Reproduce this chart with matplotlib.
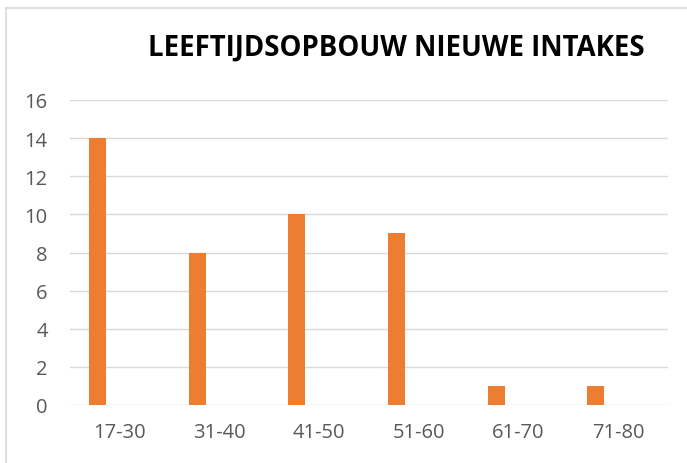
import matplotlib
matplotlib.use("Agg")
import matplotlib.pyplot as plt
from matplotlib.lines import Line2D
import numpy as np

categories = ["17-30", "31-40", "41-50", "51-60", "61-70", "71-80"]
values = [14, 8, 10, 9, 1, 1]
yticks = [0, 2, 4, 6, 8, 10, 12, 14, 16]
title = "LEEFTIJDSOPBOUW NIEUWE INTAKES"

W, H = 687, 464
fig = plt.figure(figsize=(W / 100, H / 100), dpi=100)
ax = fig.add_axes([70 / W, 1 - 406 / H, (668 - 70) / W, (406 - 101) / H])

x = np.arange(len(categories))
ax.bar(x - 0.225, values, width=0.17, color="#ED7D31", zorder=3)
ax.set_xlim(-0.5, len(categories) - 0.5)
ax.set_ylim(0, 16)
ax.set_yticks(yticks)
ax.set_xticks(x)
ax.set_xticklabels(categories)
ax.grid(axis="y", color="#D9D9D9", linewidth=1.0, zorder=0)
for s in ax.spines.values():
    s.set_visible(False)
ax.tick_params(length=0, colors="#595959", labelsize=14.5)
ax.tick_params(axis="y", pad=16)
ax.tick_params(axis="x", pad=12)
for lab in ax.get_xticklabels() + ax.get_yticklabels():
    lab.set_fontfamily("Open Sans")
    lab.set_color("#595959")

fig.text(396 / W, 1 - 48 / H, title, ha="center", va="center",
         fontsize=19.8, fontweight="bold", fontfamily="Open Sans", color="black")

# chart border (light gray)
fig.add_artist(Line2D([6 / W, 6 / W], [0, 1 - 9 / H], transform=fig.transFigure,
                      color="#D9D9D9", linewidth=1.2))
fig.add_artist(Line2D([6 / W, 1], [1 - 9 / H, 1 - 9 / H], transform=fig.transFigure,
                      color="#D9D9D9", linewidth=1.2))

fig.savefig("out.png", dpi=100)
